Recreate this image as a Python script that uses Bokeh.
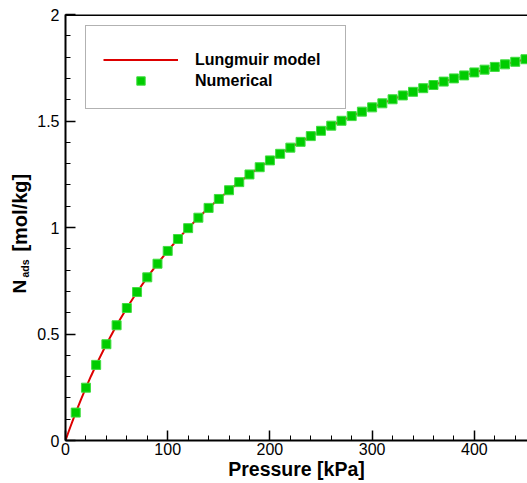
from bokeh.plotting import figure
from bokeh.layouts import row
from bokeh.models import (Range1d, SingleIntervalTicker, NumeralTickFormatter, Legend,
                          LegendItem, Label, Span)
from bokeh.embed import file_html
from bokeh.resources import INLINE
import math

# Langmuir model curve
model_p = [0, 2.5, 5, 7.5, 10, 15, 20, 25, 30, 40, 50, 60, 70, 80, 90, 100, 110, 120, 130, 140,
           150, 160, 170, 180, 190, 200, 210, 220, 230, 240, 250, 260, 270, 280, 290, 300,
           310, 320, 330, 340, 350, 360, 370, 380, 390, 400, 410, 420, 430, 440, 450, 452]
model_n = [0.0, 0.034, 0.067, 0.099, 0.131, 0.191, 0.248, 0.303, 0.355, 0.452, 0.541, 0.622,
           0.697, 0.766, 0.830, 0.890, 0.946, 0.997, 1.046, 1.092, 1.134, 1.175, 1.213, 1.249,
           1.283, 1.315, 1.346, 1.375, 1.402, 1.429, 1.454, 1.478, 1.501, 1.523, 1.544, 1.564,
           1.583, 1.602, 1.620, 1.637, 1.654, 1.669, 1.685, 1.700, 1.714, 1.728, 1.741, 1.754,
           1.766, 1.778, 1.790, 1.792]

# Numerical points
num_p = [10, 20, 30, 40, 50, 60, 70, 80, 90, 100, 110, 120, 130, 140, 150, 160, 170, 180,
         190, 200, 210, 220, 230, 240, 250, 260, 270, 280, 290, 300, 310, 320, 330, 340, 350,
         360, 370, 380, 390, 400, 410, 420, 430, 440, 450]
num_n = [0.131, 0.248, 0.355, 0.452, 0.541, 0.622, 0.697, 0.766, 0.830, 0.890, 0.946, 0.997,
         1.046, 1.092, 1.134, 1.175, 1.213, 1.249, 1.283, 1.315, 1.346, 1.375, 1.402, 1.429,
         1.454, 1.478, 1.501, 1.523, 1.544, 1.564, 1.583, 1.602, 1.620, 1.637, 1.654, 1.669,
         1.685, 1.700, 1.714, 1.728, 1.741, 1.754, 1.766, 1.778, 1.790]

x_label = "Pressure [kPa]"
y_label_parts = ["N", "ads", "[mol/kg]"]
legend_labels = ["Lungmuir model", "Numerical"]

FONT = "Liberation Sans"
H = 483
LW = 34

y_rng = Range1d(0, 2)

# --- main plot ---
p = figure(width=527 - LW, height=H, output_backend="svg", toolbar_location=None,
           x_range=Range1d(0, 452), y_range=y_rng,
           min_border_left=65 - LW, min_border_right=0, min_border_top=14, min_border_bottom=43)
p.xgrid.visible = False
p.ygrid.visible = False
p.outline_line_color = None
p.background_fill_color = "white"
p.border_fill_color = "white"

for ax in (p.xaxis[0], p.yaxis[0]):
    ax.axis_line_width = 2
    ax.axis_line_color = "black"
    ax.major_tick_in = 10
    ax.major_tick_out = 0
    ax.minor_tick_in = 5
    ax.minor_tick_out = 0
    ax.major_tick_line_width = 1.5
    ax.major_tick_line_color = "black"
    ax.minor_tick_line_width = 1
    ax.minor_tick_line_color = "black"
    ax.major_label_text_font = FONT
    ax.major_label_text_font_size = "16px"
    ax.major_label_text_color = "black"

p.xaxis[0].ticker = SingleIntervalTicker(interval=100, num_minor_ticks=5)
p.yaxis[0].ticker = SingleIntervalTicker(interval=0.5, num_minor_ticks=5)
p.yaxis[0].formatter = NumeralTickFormatter(format="0.[0]")
p.xaxis[0].major_label_standoff = 2
p.yaxis[0].major_label_standoff = 6

p.xaxis[0].axis_label = x_label
p.xaxis[0].axis_label_text_font = FONT
p.xaxis[0].axis_label_text_font_style = "bold"
p.xaxis[0].axis_label_text_font_size = "19.5px"
p.xaxis[0].axis_label_text_color = "black"
p.xaxis[0].axis_label_standoff = 0

p.add_layout(Span(location=2, dimension="width", line_color="black", line_width=3))

line = p.line(model_p, model_n, line_color="#dd0000", line_width=2)
pts = p.scatter(num_p, num_n, marker="square", size=9, fill_color="#00cc00",
                line_color="#40dd40", line_width=1)

legend = Legend(items=[LegendItem(label=legend_labels[0], renderers=[line]),
                       LegendItem(label=legend_labels[1], renderers=[pts])],
                location=(20, 331), margin=0, padding=17, spacing=0,
                glyph_width=75, glyph_height=21, label_height=21, label_standoff=17,
                label_width=133,
                label_text_font=FONT, label_text_font_style="bold",
                label_text_font_size="16px", label_text_color="black",
                border_line_color="#666666", border_line_width=1.5,
                background_fill_color="white", background_fill_alpha=1,
                title=" ", title_text_font_size="5.5px", title_standoff=0)
p.add_layout(legend)

# --- narrow strip holding the y-axis title (with subscript), sharing the y scale ---
lab = figure(width=LW, height=H, output_backend="svg", toolbar_location=None,
             x_range=Range1d(0, LW), y_range=y_rng,
             x_axis_location=None, y_axis_location=None,
             min_border_left=0, min_border_right=0, min_border_top=14, min_border_bottom=43)
lab.xgrid.visible = False
lab.ygrid.visible = False
lab.outline_line_color = None
lab.background_fill_color = "white"
lab.border_fill_color = "white"

lab_kw = dict(angle=math.pi / 2, text_font=FONT, text_font_style="bold",
              text_color="black", text_align="left", text_baseline="middle")
lab.add_layout(Label(x=19, y=0.690, text=y_label_parts[0], text_font_size="19px", **lab_kw))
lab.add_layout(Label(x=24, y=0.765, text=y_label_parts[1], text_font_size="10.5px", **lab_kw))
lab.add_layout(Label(x=19.5, y=0.887, text=y_label_parts[2], text_font_size="20px", **lab_kw))

open("out.html", "w").write(file_html(row(lab, p, spacing=0), INLINE))
